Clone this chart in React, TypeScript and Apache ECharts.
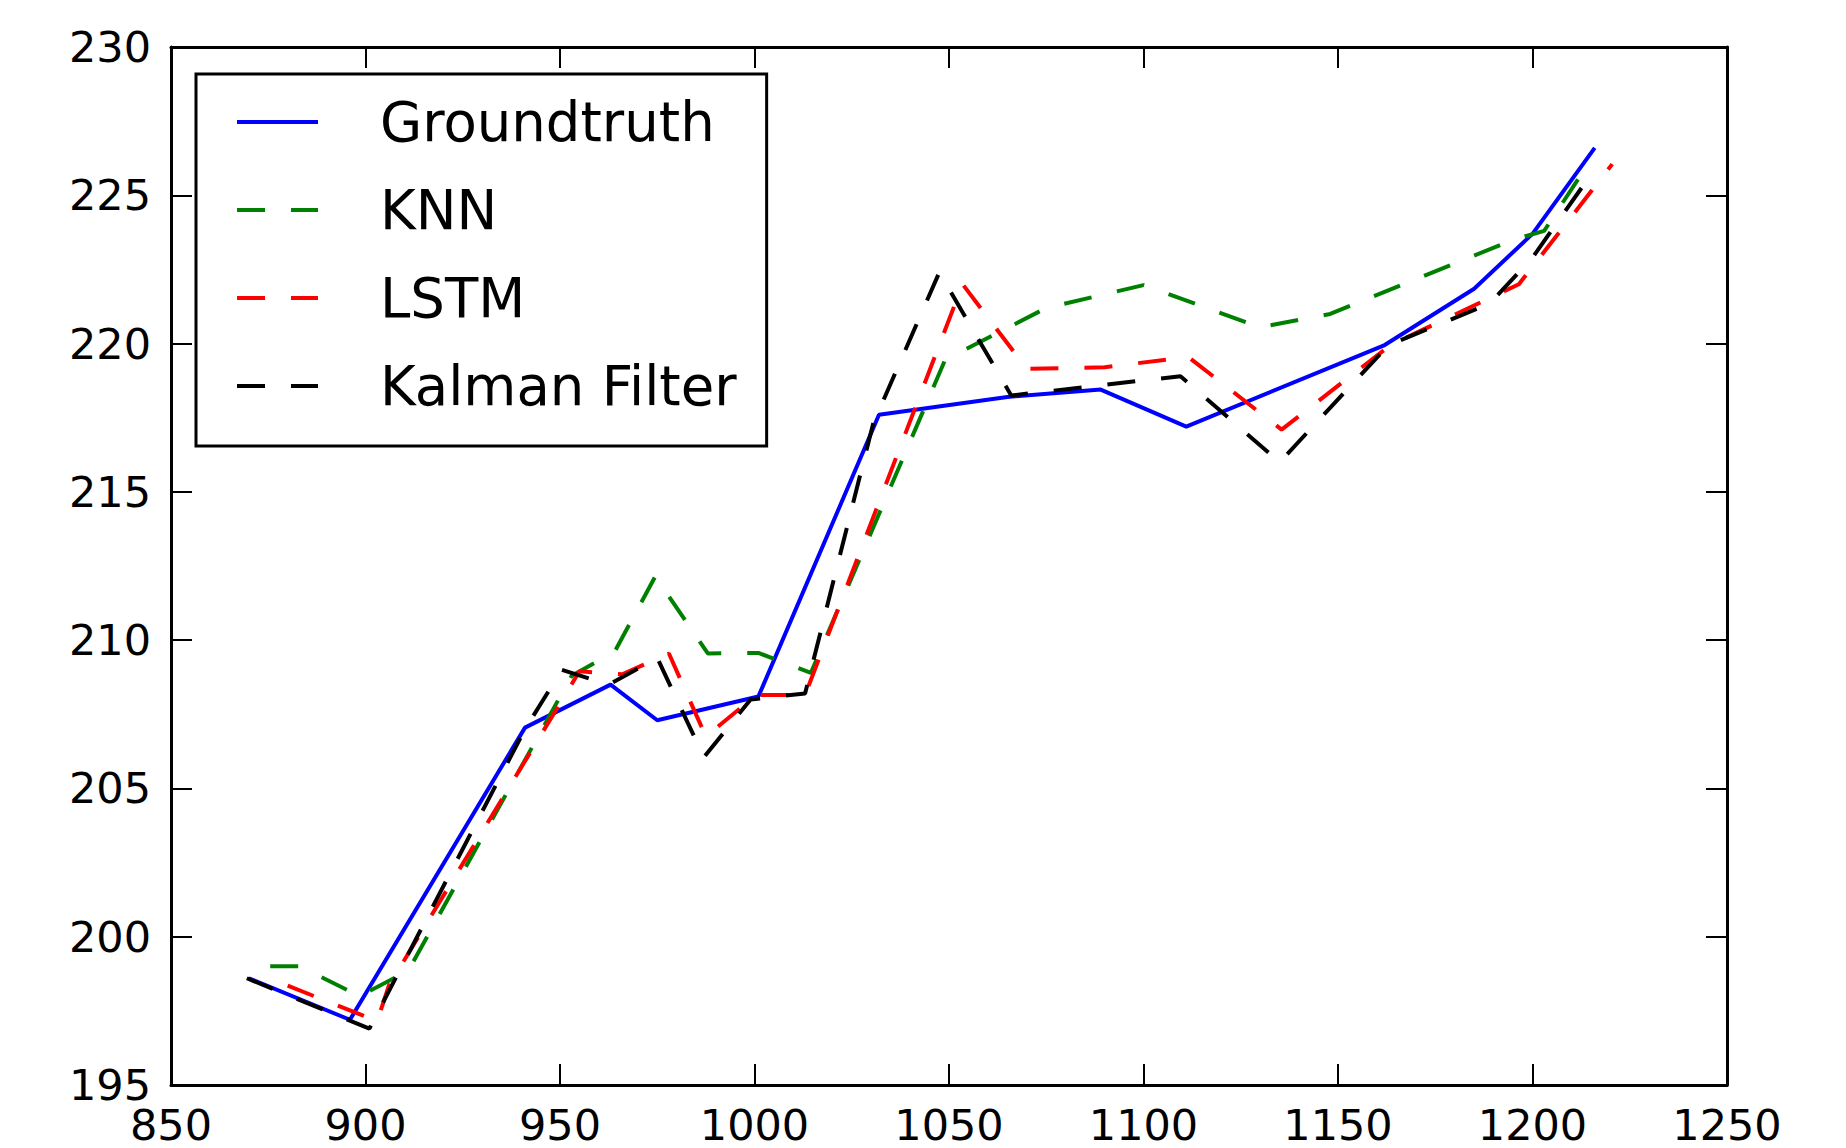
import React, { useEffect, useRef } from "react";
import * as echarts from "echarts";

const xTicks = { min: 850, max: 1250, interval: 50 };
const yTicks = { min: 195, max: 230, interval: 5 };

const seriesNames = ["Groundtruth", "KNN", "LSTM", "Kalman Filter"];

const groundtruthX = [870, 896, 941, 963, 975, 1001, 1032, 1065, 1089, 1111, 1162, 1185, 1200, 1216];
const groundtruthY = [198.6, 197.2, 207.05, 208.5, 207.3, 208.1, 217.6, 218.2, 218.45, 217.2, 219.95, 221.85, 223.7, 226.6];

const knnX = [875.5, 883, 898.5, 911, 953, 964, 974.5, 988, 1001, 1014.5, 1049, 1075, 1100, 1130, 1148, 1195, 1203, 1214];
const knnY = [199.0, 199.0, 198.0, 198.85, 208.8, 209.6, 212.15, 209.55, 209.57, 208.9, 219.45, 221.2, 221.97, 220.55, 221.0, 223.5, 223.8, 226.0];

const lstmX = [880, 903, 906, 955, 966, 978, 987.5, 1000.5, 1013, 1053.5, 1070, 1090, 1111.5, 1135.5, 1163.5, 1196.5, 1220.5];
const lstmY = [198.35, 197.15, 198.35, 208.95, 208.85, 209.55, 206.75, 208.15, 208.15, 222.0, 219.15, 219.2, 219.55, 217.1, 219.95, 222.0, 226.05];

const kalmanX = [869.5, 901, 941, 950.5, 962.5, 975, 987, 999, 1013, 1030.5, 1047.5, 1066, 1109.5, 1135, 1163, 1189, 1200, 1214.5];
const kalmanY = [198.6, 196.9, 207.0, 209.0, 208.5, 209.4, 206.05, 208.0, 208.2, 217.3, 222.4, 218.25, 218.9, 216.0, 219.95, 221.35, 222.9, 225.6];

const FONT = "DejaVu Sans";

const zip = (xs: number[], ys: number[]) => xs.map((x, i) => [x, ys[i]]);

export default function App() {
  const ref = useRef<HTMLDivElement>(null);

  useEffect(() => {
    if (!ref.current) return;
    const chart = echarts.init(ref.current, undefined, { renderer: "svg" });

    const axisLine = { show: true, lineStyle: { color: "#000", width: 3 } };
    const axisTick = { show: true, inside: true, length: 21, lineStyle: { color: "#000", width: 2 } };
    const label = {
      fontSize: 43,
      color: "#000",
      fontFamily: FONT,
      formatter: (v: number) => String(v),
    };

    const dashed = [28, 26];
    const lw = 4;

    const option = {
      animation: false,
      backgroundColor: "#fff",
      grid: { left: 171, right: 119, top: 47, bottom: 63, containLabel: false },
      xAxis: [
        {
          type: "value",
          position: "bottom",
          min: xTicks.min,
          max: xTicks.max,
          interval: xTicks.interval,
          axisLine,
          axisTick,
          axisLabel: { ...label, margin: 18, showMinLabel: true, showMaxLabel: true },
          splitLine: { show: false },
        },
        {
          type: "value",
          position: "top",
          min: xTicks.min,
          max: xTicks.max,
          interval: xTicks.interval,
          axisLine,
          axisTick,
          axisLabel: { show: false },
          splitLine: { show: false },
        },
      ],
      yAxis: [
        {
          type: "value",
          position: "left",
          min: yTicks.min,
          max: yTicks.max,
          interval: yTicks.interval,
          axisLine,
          axisTick,
          axisLabel: { ...label, margin: 20, showMinLabel: true, showMaxLabel: true },
          splitLine: { show: false },
        },
        {
          type: "value",
          position: "right",
          min: yTicks.min,
          max: yTicks.max,
          interval: yTicks.interval,
          axisLine,
          axisTick,
          axisLabel: { show: false },
          splitLine: { show: false },
        },
      ],
      legend: {
        data: seriesNames,
        orient: "vertical",
        left: 196,
        top: 74,
        backgroundColor: "#fff",
        borderColor: "#000",
        borderWidth: 3,
        borderRadius: 0,
        padding: [18, 30, 30, 39],
        itemWidth: 81,
        itemHeight: 20,
        itemGap: 28,
        selectedMode: false,
        itemStyle: { color: "transparent", borderColor: "transparent", borderWidth: 0, opacity: 0 },
        lineStyle: { width: lw },
        textStyle: {
          fontSize: 54.5,
          fontFamily: FONT,
          color: "#000",
          lineHeight: 60,
          padding: [0, 0, 0, 57],
        },
      },
      series: [
        {
          name: seriesNames[0],
          type: "line",
          data: zip(groundtruthX, groundtruthY),
          symbol: "none",
          lineStyle: { color: "#0000ff", width: lw, type: "solid" },
          itemStyle: { color: "#0000ff" },
          z: 2,
        },
        {
          name: seriesNames[1],
          type: "line",
          data: zip(knnX, knnY),
          symbol: "none",
          lineStyle: { color: "#008000", width: lw, type: dashed },
          itemStyle: { color: "#008000" },
          z: 3,
        },
        {
          name: seriesNames[2],
          type: "line",
          data: zip(lstmX, lstmY),
          symbol: "none",
          lineStyle: { color: "#ff0000", width: lw, type: dashed },
          itemStyle: { color: "#ff0000" },
          z: 4,
        },
        {
          name: seriesNames[3],
          type: "line",
          data: zip(kalmanX, kalmanY),
          symbol: "none",
          lineStyle: { color: "#000000", width: lw, type: dashed },
          itemStyle: { color: "#000000" },
          z: 5,
        },
      ],
    };

    chart.setOption(option as any);
    return () => chart.dispose();
  }, []);

  return (
    <div
      ref={ref}
      style={{ position: "fixed", left: 0, top: 0, width: 1846, height: 1148, background: "#fff" }}
    />
  );
}
